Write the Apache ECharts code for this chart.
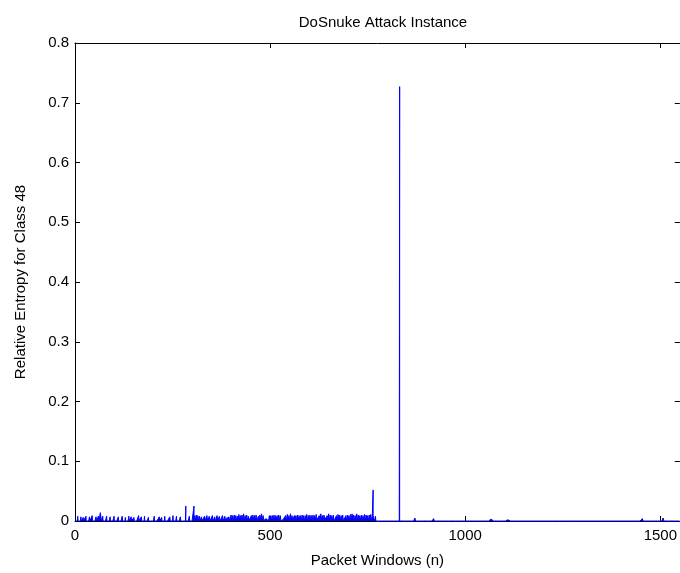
<!DOCTYPE html>
<html>
<head>
<meta charset="utf-8">
<script src="https://cdn.jsdelivr.net/npm/echarts@6/dist/echarts.min.js"></script>
<style>
  html, body { margin: 0; padding: 0; background: #ffffff; }
  #chart { width: 680px; height: 573px; }
</style>
</head>
<body>
<div id="chart"></div>
<script>
// Packet windows n = 0 .. lastWindow
const lastWindow = 1550;
const xTickValues = [0, 500, 1000, 1500];
const yTickValues = [0, 0.1, 0.2, 0.3, 0.4, 0.5, 0.6, 0.7, 0.8];

// Relative entropy values are written in thousandths (x 1e-3)

// Isolated spikes in the early windows: [n, entropy]
const earlySpikes = [
  [7, 8], [15, 7], [21, 6], [28, 8], [37, 7], [44, 9], [54, 7], [60, 8],
  [65, 14], [66, 9], [71, 8], [81, 8], [90, 7], [100, 8], [111, 7], [121, 8],
  [129, 6], [138, 8], [144, 7], [151, 6], [163, 9], [170, 7], [178, 8],
  [188, 6], [196, 3], [203, 8], [216, 7], [222, 6], [230, 8], [243, 7],
  [251, 9], [260, 8], [270, 7], [284, 25], [293, 8], [305, 25], [307, 9],
  [309, 3], [311, 10], [313, 2], [315, 9], [317, 1], [319, 8], [324, 7]
];

// Busy stretch sampled every denseStep windows starting at denseStart
const denseStart = 330;
const denseStep = 2;
const denseValues = [
  0, 8, 1, 0, 9, 0, 1, 8, 0, 2,
  0, 9, 0, 1, 7, 0, 0, 9, 1, 0,
  8, 0, 2, 0, 9, 0, 1, 8, 0, 3,
  6, 0, 7, 1, 6, 10, 0, 9, 1, 10,
  1, 9, 0, 8, 0, 11, 1, 9, 0, 10,
  1, 12, 0, 9, 1, 10, 0, 8, 1, 2,
  1, 9, 0, 10, 1, 9, 0, 10, 0, 1,
  8, 0, 10, 1, 12, 0, 9, 1, 2, 0,
  4, 1, 5, 0, 9, 0, 9, 1, 9, 0,
  10, 0, 9, 1, 9, 0, 10, 1, 9, 0,
  2, 1, 3, 1, 2, 9, 0, 11, 1, 9,
  0, 12, 1, 9, 1, 2, 9, 0, 9, 1,
  10, 0, 9, 1, 9, 0, 10, 1, 9, 0,
  9, 1, 11, 0, 9, 1, 10, 0, 9, 1,
  10, 0, 9, 1, 11, 2, 4, 1, 9, 0,
  12, 1, 9, 0, 10, 2, 1, 3, 9, 0,
  12, 1, 10, 0, 9, 1, 10, 0, 2, 1,
  9, 0, 11, 1, 10, 0, 9, 1, 10, 0,
  3, 1, 9, 0, 10, 1, 9, 0, 11, 1,
  12, 0, 10, 1, 9, 0, 12, 1, 10, 0,
  9, 1, 10, 0, 9, 1, 11, 0, 10, 1,
  9, 0, 10, 1, 11, 0, 9, 52, 10, 0,
  8
];

// Attack peak and the small blips after it: [n, entropy]
const lateSpikes = [
  [832, 727], [870, 2], [871, 5], [872, 2], [918, 2], [919, 4], [920, 2],
  [1013, 3], [1066, 3], [1109, 2], [1111, 2], [1113, 2], [1163, 3],
  [1259, 3], [1310, 3], [1407, 3], [1453, 2], [1454, 4], [1455, 2],
  [1473, 3], [1506, 2], [1507, 5], [1508, 2]
];

// Tall values are drawn as a straight stem at their own window
const stemThreshold = 20;

// Assemble the full series, zero wherever no value is listed
const entropy = new Array(lastWindow + 1).fill(0);
earlySpikes.forEach(([n, v]) => { entropy[n] = v; });
denseValues.forEach((v, i) => { entropy[denseStart + i * denseStep] = v; });
lateSpikes.forEach(([n, v]) => { entropy[n] = v; });

const denseEnd = denseStart + (denseValues.length - 1) * denseStep;
const seriesData = [];
for (let n = 0; n <= lastWindow; n++) {
  // inside the busy stretch only the listed samples are used
  if (n > denseStart && n < denseEnd && (n - denseStart) % denseStep !== 0) continue;
  const v = entropy[n] / 1000;
  if (entropy[n] >= stemThreshold) {
    const prev = seriesData.length ? seriesData[seriesData.length - 1][1] : 0;
    seriesData.push([n, prev], [n, v], [n, prev]);
  } else {
    seriesData.push([n, v]);
  }
}

const fontFamily = '"Liberation Sans", Arial, Helvetica, sans-serif';
const tickFont = 15;
const nameFont = 15;
const nameStyle = { color: '#000000', fontFamily: fontFamily, fontSize: nameFont, fontWeight: 'normal' };

const chart = echarts.init(document.getElementById('chart'), null, { renderer: 'canvas' });

const frameX = {
  type: 'value',
  min: 0,
  max: lastWindow,
  interval: 500,
  axisLine: { show: true, onZero: false, lineStyle: { color: '#000000', width: 1 } },
  axisTick: { show: true, inside: true, length: 5, lineStyle: { color: '#000000' } },
  splitLine: { show: false }
};
const frameY = {
  type: 'value',
  min: 0,
  max: 0.8,
  interval: 0.1,
  axisLine: { show: true, onZero: false, lineStyle: { color: '#000000', width: 1 } },
  axisTick: { show: true, inside: true, length: 5, lineStyle: { color: '#000000' } },
  splitLine: { show: false }
};

chart.setOption({
  animation: false,
  backgroundColor: '#ffffff',
  title: {
    text: 'DoSnuke Attack Instance',
    left: 378,
    top: 10,
    textAlign: 'center',
    textStyle: nameStyle
  },
  grid: { left: 75, top: 43, width: 607, height: 478 },
  xAxis: [
    Object.assign({}, frameX, {
      position: 'bottom',
      name: 'Packet Windows (n)',
      nameLocation: 'middle',
      nameGap: 32,
      nameTextStyle: nameStyle,
      axisLabel: {
        show: true, margin: 7, color: '#000000', fontFamily: fontFamily, fontSize: tickFont,
        showMaxLabel: false,
        formatter: v => (xTickValues.indexOf(v) >= 0 ? String(v) : '')
      }
    }),
    Object.assign({}, frameX, { position: 'top', axisLabel: { show: false } })
  ],
  yAxis: [
    Object.assign({}, frameY, {
      position: 'left',
      name: 'Relative Entropy for Class 48',
      nameLocation: 'middle',
      nameGap: 47,
      nameTextStyle: nameStyle,
      axisLabel: {
        show: true, margin: 6, color: '#000000', fontFamily: fontFamily, fontSize: tickFont,
        formatter: v => {
          const t = yTickValues.find(y => Math.abs(y - v) < 1e-9);
          return t === undefined ? '' : String(t);
        }
      }
    }),
    Object.assign({}, frameY, { position: 'right', axisLabel: { show: false } })
  ],
  series: [{
    type: 'line',
    data: seriesData,
    xAxisIndex: 0,
    yAxisIndex: 0,
    showSymbol: false,
    symbol: 'none',
    sampling: null,
    clip: false,
    lineStyle: { color: '#0000ff', width: 1 },
    itemStyle: { color: '#0000ff' },
    // the zig-zag between consecutive windows reads as a solid band
    areaStyle: { color: '#0000ff', opacity: 1, origin: 'start' },
    emphasis: { disabled: true },
    z: 5
  }]
});
</script>
</body>
</html>
